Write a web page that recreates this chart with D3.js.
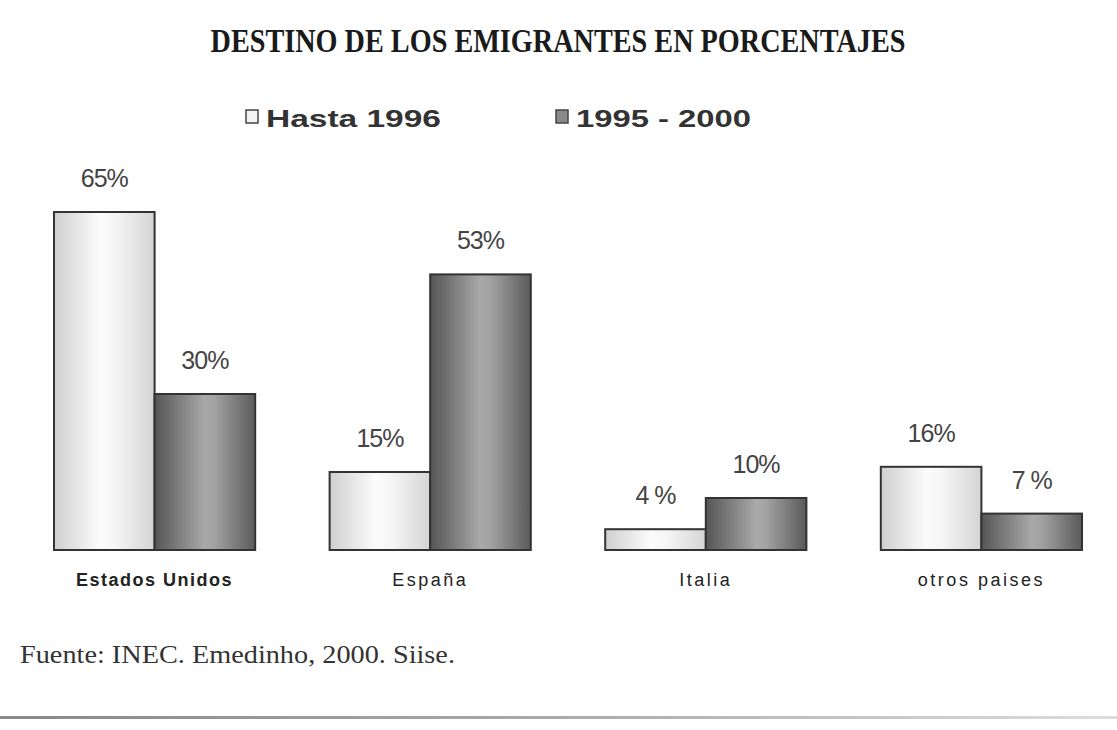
<!DOCTYPE html>
<html><head><meta charset="utf-8">
<script src="https://cdn.jsdelivr.net/npm/d3@7/dist/d3.min.js"></script>
<style>body{margin:0;background:#fff;}svg{display:block;}</style>
</head><body>
<svg id="c" width="1117" height="730"></svg>
<script>
const categories = ["Estados Unidos", "España", "Italia", "otros paises"];
const seriesNames = ["Hasta 1996", "1995 - 2000"];
const hasta1996 = [65, 15, 4, 16];
const periodo9500 = [30, 53, 10, 7];
const labelsHasta = ["65%", "15%", "4 %", "16%"];
const labelsPeriodo = ["30%", "53%", "10%", "7 %"];

const svg = d3.select("#c");
const defs = svg.append("defs");
const gl = defs.append("linearGradient").attr("id","gLight").attr("x1","0").attr("x2","1");
[[0,"#cfcfcf"],[0.45,"#fbfbfb"],[0.6,"#f6f6f6"],[1,"#d4d4d4"]].forEach(s=>gl.append("stop").attr("offset",s[0]).attr("stop-color",s[1]));
const gd = defs.append("linearGradient").attr("id","gDark").attr("x1","0").attr("x2","1");
[[0,"#555"],[0.5,"#a9a9a9"],[0.6,"#a2a2a2"],[1,"#5a5a5a"]].forEach(s=>gd.append("stop").attr("offset",s[0]).attr("stop-color",s[1]));
const gline = defs.append("linearGradient").attr("id","gLine").attr("x1","0").attr("x2","1");
[[0,"#888"],[0.5,"#aaa"],[1,"#ddd"]].forEach(s=>gline.append("stop").attr("offset",s[0]).attr("stop-color",s[1]));

const baseline = 550;
const y = d3.scaleLinear().domain([0, 100]).range([baseline, baseline - 520]);
const x0 = d3.scaleBand().domain(categories).range([54, 1082]).paddingInner(0.27).paddingOuter(0);
const x1 = d3.scaleBand().domain(seriesNames).range([0, x0.bandwidth()]).padding(0);

// title
svg.append("text").attr("x", 558).attr("y", 52).attr("text-anchor","middle")
  .attr("font-family","Liberation Serif, Times New Roman, serif").attr("font-weight","bold")
  .attr("font-size", 34).attr("fill","#1a1a1a")
  .attr("textLength", 695).attr("lengthAdjust","spacingAndGlyphs")
  .text("DESTINO DE LOS EMIGRANTES EN PORCENTAJES");

// legend
const legendX = [246, 556];
const legFill = ["url(#gLight)", "url(#gDark)"];
seriesNames.forEach((s,i)=>{
  svg.append("rect").attr("x", legendX[i]).attr("y", 110).attr("width", 12).attr("height", 13)
    .attr("fill", i===0 ? "#f4f4f4" : "#8a8a8a").attr("stroke","#444").attr("stroke-width",1.5);
  svg.append("text").attr("x", legendX[i] + 20).attr("y", 127)
    .attr("font-family","Liberation Sans, Arial, sans-serif").attr("font-weight","bold")
    .attr("font-size", 24).attr("fill","#333")
    .attr("textLength", 175).attr("lengthAdjust","spacingAndGlyphs").text(s);
});

const series = [hasta1996, periodo9500];
const labels = [labelsHasta, labelsPeriodo];
const g = svg.append("g");
series.forEach((vals, si)=>{
  g.selectAll(null).data(categories).enter().append("rect")
    .attr("x", d => x0(d) + x1(seriesNames[si]))
    .attr("y", (d,i) => y(vals[i]))
    .attr("width", x1.bandwidth())
    .attr("height", (d,i) => baseline - y(vals[i]))
    .attr("fill", legFill[si])
    .attr("stroke", "#333").attr("stroke-width", 2);
  g.selectAll(null).data(categories).enter().append("text")
    .attr("x", d => x0(d) + x1(seriesNames[si]) + x1.bandwidth()/2)
    .attr("y", (d,i) => y(vals[i]) - 25)
    .attr("text-anchor","middle")
    .attr("font-family","Liberation Sans, Arial, sans-serif")
    .attr("font-size", 25).attr("fill","#444")
    .attr("letter-spacing", -1)
    .text((d,i) => labels[si][i]);
});

// category labels
svg.selectAll(".cat").data(categories).enter().append("text")
  .attr("x", d => x0(d) + x0.bandwidth()/2)
  .attr("y", 586).attr("text-anchor","middle")
  .attr("font-family","Liberation Sans, Arial, sans-serif")
  .attr("font-weight", d => d==="Estados Unidos" ? "bold" : "normal")
  .attr("font-size", 18).attr("fill","#222")
  .attr("letter-spacing", d => d==="Estados Unidos" ? 1.5 : 2.5)
  .text(d => d);

// source
svg.append("text").attr("x", 20).attr("y", 663)
  .attr("font-family","Liberation Serif, Times New Roman, serif")
  .attr("font-size", 26).attr("fill","#333")
  .attr("textLength", 435).attr("lengthAdjust","spacingAndGlyphs")
  .text("Fuente: INEC. Emedinho, 2000. Siise.");

svg.append("rect").attr("x",0).attr("y",716).attr("width",1117).attr("height",3).attr("fill","url(#gLine)");
</script>
</body></html>
